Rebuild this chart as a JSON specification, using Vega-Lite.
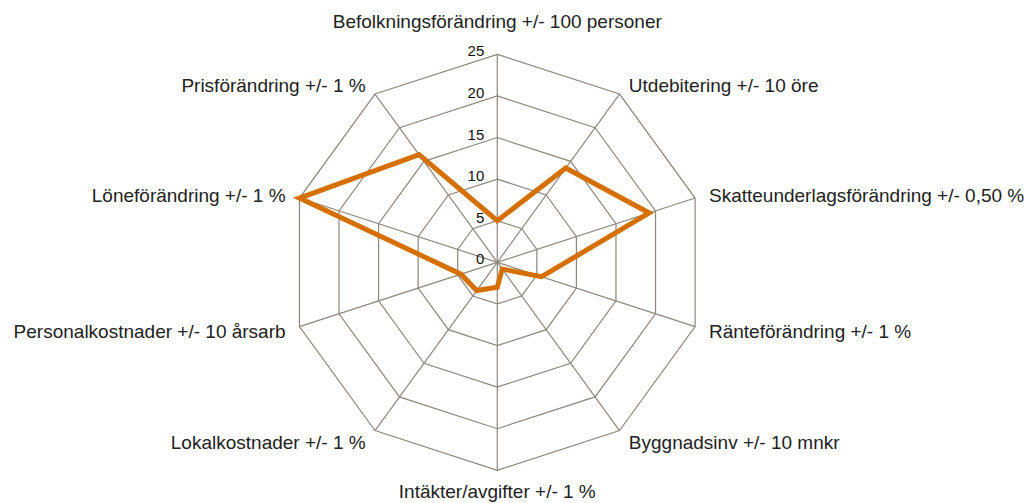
{
  "$schema": "https://vega.github.io/schema/vega-lite/v6.json",
  "width": 1025,
  "height": 503,
  "padding": 0,
  "autosize": {"type": "fit", "contains": "padding"},
  "background": "white",
  "config": {"view": {"stroke": null}},
  "datasets": {
    "axes": [
      {"idx": 0, "label": "Befolkningsförändring +/- 100 personer", "value": 5},
      {"idx": 1, "label": "Utdebitering +/- 10 öre", "value": 14},
      {"idx": 2, "label": "Skatteunderlagsförändring +/- 0,50 %", "value": 19.2},
      {"idx": 3, "label": "Ränteförändring +/- 1 %", "value": 5.6},
      {"idx": 4, "label": "Byggnadsinv +/- 10 mnkr", "value": 1},
      {"idx": 5, "label": "Intäkter/avgifter +/- 1 %", "value": 3},
      {"idx": 6, "label": "Lokalkostnader +/- 1 %", "value": 4.2},
      {"idx": 7, "label": "Personalkostnader +/- 10 årsarb", "value": 4.6},
      {"idx": 8, "label": "Löneförändring +/- 1 %", "value": 25},
      {"idx": 9, "label": "Prisförändring +/- 1 %", "value": 16}
    ],
    "grid": [
      {"level": 5, "idx": [0, 1, 2, 3, 4, 5, 6, 7, 8, 9]},
      {"level": 10, "idx": [0, 1, 2, 3, 4, 5, 6, 7, 8, 9]},
      {"level": 15, "idx": [0, 1, 2, 3, 4, 5, 6, 7, 8, 9]},
      {"level": 20, "idx": [0, 1, 2, 3, 4, 5, 6, 7, 8, 9]},
      {"level": 25, "idx": [0, 1, 2, 3, 4, 5, 6, 7, 8, 9]}
    ],
    "ticks": [
      {"tick": 0}, {"tick": 5}, {"tick": 10}, {"tick": 15}, {"tick": 20}, {"tick": 25}
    ]
  },
  "layer": [
    {
      "data": {"name": "grid"},
      "transform": [
        {"flatten": ["idx"]},
        {"calculate": "datum.level * sin(datum.idx * PI / 5)", "as": "x"},
        {"calculate": "datum.level * cos(datum.idx * PI / 5)", "as": "y"}
      ],
      "mark": {"type": "line", "interpolate": "linear-closed", "stroke": "#8E877B", "strokeWidth": 1.2},
      "encoding": {
        "x": {"field": "x", "type": "quantitative", "scale": {"domain": [-59.77, 63.43], "nice": false, "zero": false}, "axis": null},
        "y": {"field": "y", "type": "quantitative", "scale": {"domain": [-28.93, 31.53], "nice": false, "zero": false}, "axis": null},
        "detail": {"field": "level", "type": "nominal"},
        "order": {"field": "idx", "type": "quantitative"}
      }
    },
    {
      "data": {"name": "axes"},
      "transform": [
        {"calculate": "0", "as": "cx"},
        {"calculate": "25 * sin(datum.idx * PI / 5)", "as": "sx"},
        {"calculate": "25 * cos(datum.idx * PI / 5)", "as": "sy"}
      ],
      "mark": {"type": "rule", "stroke": "#8E877B", "strokeWidth": 1.2},
      "encoding": {
        "x": {"field": "cx", "type": "quantitative"},
        "y": {"field": "cx", "type": "quantitative"},
        "x2": {"field": "sx"},
        "y2": {"field": "sy"}
      }
    },
    {
      "data": {"name": "axes"},
      "transform": [
        {"calculate": "datum.value * sin(datum.idx * PI / 5)", "as": "x"},
        {"calculate": "datum.value * cos(datum.idx * PI / 5)", "as": "y"}
      ],
      "mark": {"type": "line", "interpolate": "linear-closed", "stroke": "#D46F00", "strokeWidth": 5, "strokeJoin": "miter"},
      "encoding": {
        "x": {"field": "x", "type": "quantitative"},
        "y": {"field": "y", "type": "quantitative"},
        "order": {"field": "idx", "type": "quantitative"}
      }
    },
    {
      "data": {"name": "ticks"},
      "transform": [{"calculate": "0", "as": "cx"}],
      "mark": {"type": "text", "align": "right", "baseline": "middle", "dx": -13, "dy": -3, "font": "Liberation Sans", "fontSize": 15, "fill": "#111111"},
      "encoding": {
        "x": {"field": "cx", "type": "quantitative"},
        "y": {"field": "tick", "type": "quantitative"},
        "text": {"field": "tick", "type": "quantitative"}
      }
    },
    {
      "data": {"name": "axes"},
      "transform": [
        {"filter": "datum.idx >= 1 && datum.idx <= 4"},
        {"calculate": "26.5 * sin(datum.idx * PI / 5)", "as": "x"},
        {"calculate": "26.5 * cos(datum.idx * PI / 5)", "as": "y"}
      ],
      "mark": {"type": "text", "align": "left", "baseline": "middle", "dx": 2, "dy": 2, "font": "Liberation Sans", "fontSize": 19, "fill": "#222222"},
      "encoding": {
        "x": {"field": "x", "type": "quantitative"},
        "y": {"field": "y", "type": "quantitative"},
        "text": {"field": "label"}
      }
    },
    {
      "data": {"name": "axes"},
      "transform": [
        {"filter": "datum.idx >= 6"},
        {"calculate": "26.5 * sin(datum.idx * PI / 5)", "as": "x"},
        {"calculate": "26.5 * cos(datum.idx * PI / 5)", "as": "y"}
      ],
      "mark": {"type": "text", "align": "right", "baseline": "middle", "dx": -2, "dy": 2, "font": "Liberation Sans", "fontSize": 19, "fill": "#222222"},
      "encoding": {
        "x": {"field": "x", "type": "quantitative"},
        "y": {"field": "y", "type": "quantitative"},
        "text": {"field": "label"}
      }
    },
    {
      "data": {"name": "axes"},
      "transform": [
        {"filter": "datum.idx == 0 || datum.idx == 5"},
        {"calculate": "0", "as": "cx"},
        {"calculate": "datum.idx == 0 ? 28.9 : -27.6", "as": "y"}
      ],
      "mark": {"type": "text", "align": "center", "baseline": "middle", "font": "Liberation Sans", "fontSize": 19, "fill": "#222222"},
      "encoding": {
        "x": {"field": "cx", "type": "quantitative"},
        "y": {"field": "y", "type": "quantitative"},
        "text": {"field": "label"}
      }
    }
  ]
}
